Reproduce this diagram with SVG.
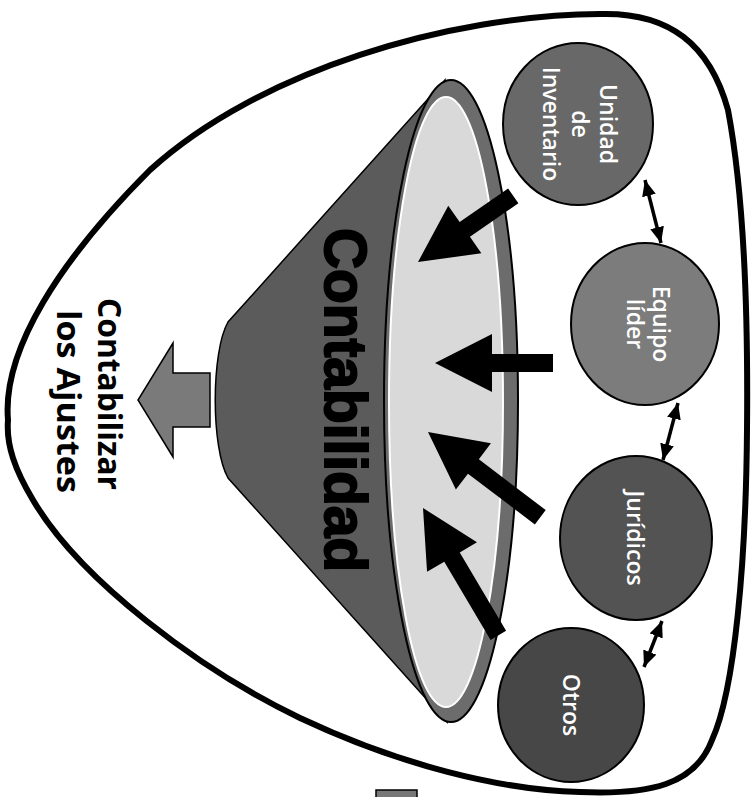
<svg xmlns="http://www.w3.org/2000/svg" width="756" height="797" viewBox="0 0 756 797">
  <defs>
    <style>
      .circ { stroke: #000; stroke-width: 2; }
      .ctext { font-family: "Open Sans", "Liberation Sans", sans-serif; font-size: 23px; font-weight: 600; fill: #fff; text-anchor: middle; }
      .blk { fill: #000; }
      .dbl { stroke: #000; stroke-width: 3.5; fill: none; marker-start: url(#ah); marker-end: url(#ah); }
      .label { font-family: "Open Sans", "Liberation Sans", sans-serif; font-size: 32px; font-weight: bold; fill: #000; }
    </style>
    <marker id="ah" viewBox="0 0 16 14" refX="16" refY="7" markerWidth="16" markerHeight="14" markerUnits="userSpaceOnUse" orient="auto-start-reverse">
      <path d="M0,0 L16,7 L0,14 Z" fill="#000"/>
    </marker>
  </defs>
  <rect width="756" height="797" fill="#fff"/>

  <g id="outer">
    <path d="M 8,420 C 2,350 60,260 150,170 C 260,70 450,15 600,14 C 670,12 710,45 728,110 C 745,200 748,330 747,430 C 746,560 735,690 712,740 C 695,785 650,795 580,792 C 500,790 400,765 300,718 C 200,670 80,580 33,500 C 15,470 6,445 8,420 Z" fill="none" stroke="#000" stroke-width="6"/>
  </g>

  <g id="bottom-tab">
    <rect x="376" y="790" width="41" height="14" fill="#777" stroke="#000" stroke-width="1.5"/>
  </g>

  <g id="output-arrow">
    <polygon points="210,373 173,373 173,343 138,400 173,457 173,427 210,427" fill="#7a7a7a" stroke="#000" stroke-width="1.5"/>
  </g>

  <g id="contabilizar-label">
    <g transform="rotate(90)">
      <text class="label" x="298" y="-98" textLength="192" lengthAdjust="spacingAndGlyphs">Contabilizar</text>
      <text class="label" x="310" y="-57" textLength="183" lengthAdjust="spacingAndGlyphs">los Ajustes</text>
    </g>
  </g>

  <g id="funnel">
    <path d="M 445,80 L 228,322 C 211,352 211,448 228,478 L 447,722 Z" fill="#5b5b5b" stroke="#000" stroke-width="1.5"/>
    <ellipse cx="451" cy="401" rx="67" ry="321" fill="#6c6c6c" stroke="#000" stroke-width="2"/>
    <ellipse cx="446" cy="402" rx="57" ry="305" fill="#d9d9d9" stroke="#fff" stroke-width="2"/>
    <g transform="translate(325,400) rotate(90)">
      <text x="0" y="0" text-anchor="middle" font-family="Liberation Sans, Arial, sans-serif" font-size="60" font-weight="bold" fill="#000" stroke="#000" stroke-width="2" textLength="344" lengthAdjust="spacingAndGlyphs">Contabilidad</text>
    </g>
  </g>

  <g id="node-unidad">
    <ellipse class="circ" cx="578" cy="124" rx="75" ry="81" fill="#686868"/>
    <g transform="translate(578,124) rotate(90)">
      <text class="ctext" x="0" y="-22">Unidad</text>
      <text class="ctext" x="0" y="6">de</text>
      <text class="ctext" x="0" y="35">Inventario</text>
    </g>
  </g>

  <g id="node-equipo">
    <ellipse class="circ" cx="645" cy="324" rx="74" ry="81" fill="#7c7c7c"/>
    <g transform="translate(645,324) rotate(90)">
      <text class="ctext" x="0" y="-8">Equipo</text>
      <text class="ctext" x="0" y="18">líder</text>
    </g>
  </g>

  <g id="node-juridicos">
    <ellipse class="circ" cx="636" cy="538" rx="76" ry="82" fill="#535353"/>
    <g transform="translate(636,538) rotate(90)">
      <text class="ctext" x="0" y="9">Jurídicos</text>
    </g>
  </g>

  <g id="node-otros">
    <ellipse class="circ" cx="571" cy="705" rx="73" ry="77" fill="#474747"/>
    <g transform="translate(571,705) rotate(90)">
      <text class="ctext" x="0" y="8">Otros</text>
    </g>
  </g>

  <g id="connectors">
    <polygon class="blk" transform="translate(418,262) rotate(-34.8)" points="0,0 57,-29 57,-9 116,-9 116,9 57,9 57,29"/>
    <polygon class="blk" transform="translate(435,363) rotate(0)" points="0,0 57,-29 57,-9 118,-9 118,9 57,9 57,29"/>
    <polygon class="blk" transform="translate(428,432) rotate(37.2)" points="0,0 57,-29 57,-9 141,-9 141,9 57,9 57,29"/>
    <polygon class="blk" transform="translate(423,508) rotate(59.4)" points="0,0 57,-29 57,-9 148,-9 148,9 57,9 57,29"/>
    <line class="dbl" x1="645" y1="180" x2="661" y2="243"/>
    <line class="dbl" x1="678" y1="403" x2="663" y2="460"/>
    <line class="dbl" x1="662" y1="621" x2="644" y2="667"/>
  </g>
</svg>
